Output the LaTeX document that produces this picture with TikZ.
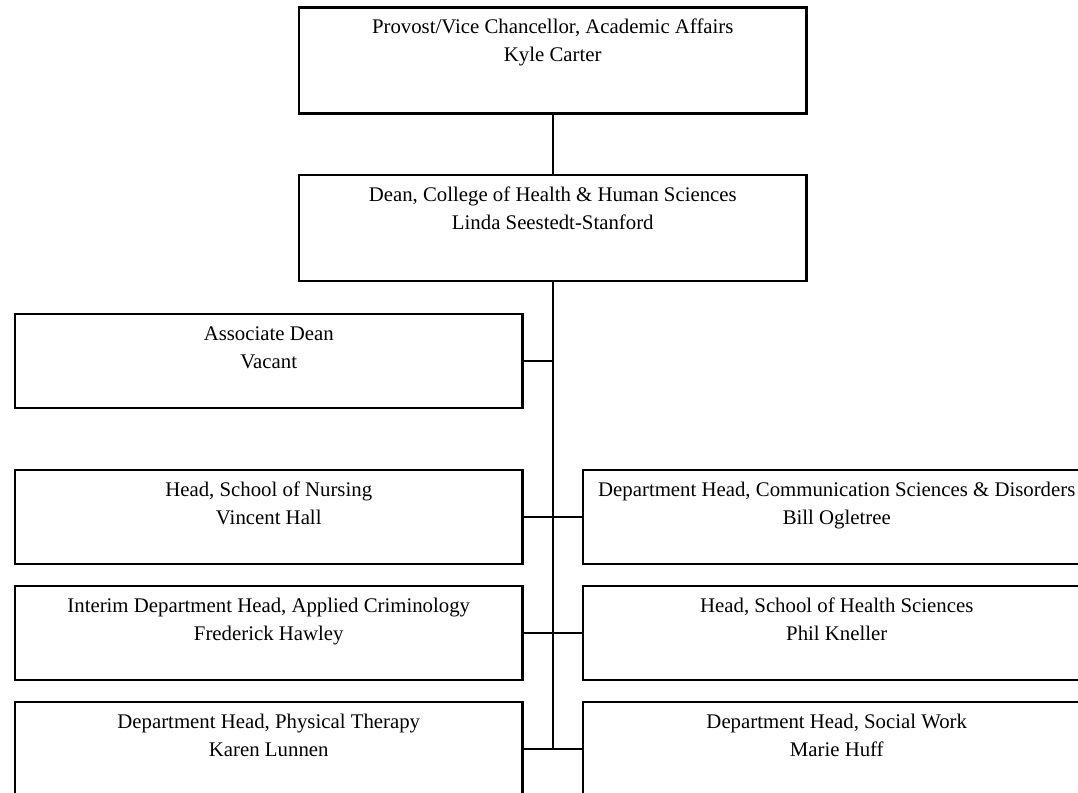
\documentclass[tikz,border=0pt]{standalone}
\usepackage{fontspec}
\setmainfont{Liberation Serif}
\tikzset{
  post/.style={draw=black, line width=2.6pt, fill=white, minimum width=507.5pt,
    inner sep=0pt, outer sep=0pt},
  posttext/.style={anchor=base, inner sep=0pt, outer sep=0pt,
    font=\fontsize{20.8}{24}\selectfont},
  link/.style={draw=black, line width=2.3pt},
  spine/.style={draw=black, line width=2pt}
}
% \orgpost{name}{centre x}{top y}{height}{title}{holder}
\newcommand\orgpost[6]{%
  \node[post, minimum height=#4pt] (#1) at (#2, #3+#4/2) {};
  \node[posttext] (#1-title) at ([yshift=-26pt]#1.north) {#5};
  \node[posttext] (#1-holder) at ([yshift=-54pt]#1.north) {#6};
}
\begin{document}
\begin{tikzpicture}[x=1pt, y=-1pt]
  \useasboundingbox (0,0) rectangle (1078,792);
  \clip (0,0) rectangle (1078,792);
  \fill[white] (0,0) rectangle (1078,792);

  % connectors first, boxes are drawn on top
  \coordinate (spinetop) at (552.75,281);
  \coordinate (spineend) at (552.75,748.5);
  \draw[spine] (spinetop) -- (spineend);

  \orgpost{provost}{552.75}{7.5}{106}{Provost/Vice Chancellor, Academic Affairs}{Kyle Carter}
  \orgpost{dean}{552.75}{175}{106}{Dean, College of Health \& Human Sciences}{Linda Seestedt-Stanford}
  \orgpost{assoc}{268.75}{314}{94}{Associate Dean}{Vacant}
  \orgpost{nursing}{268.75}{470}{94}{Head, School of Nursing}{Vincent Hall}
  \orgpost{csd}{836.75}{470}{94}{Department Head, Communication Sciences \& Disorders}{Bill Ogletree}
  \orgpost{crim}{268.75}{586}{94}{Interim Department Head, Applied Criminology}{Frederick Hawley}
  \orgpost{hsci}{836.75}{586}{94}{Head, School of Health Sciences}{Phil Kneller}
  \orgpost{pt}{268.75}{702}{94}{Department Head, Physical Therapy}{Karen Lunnen}
  \orgpost{sw}{836.75}{702}{94}{Department Head, Social Work}{Marie Huff}

  \draw[link] (provost.south) -- (dean.north);
  \draw[link] (assoc.east) -- (assoc.east -| spinetop);
  \draw[link] (nursing.east) -- (csd.west);
  \draw[link] (crim.east) -- (hsci.west);
  \draw[link] (pt.east) -- (sw.west);
\end{tikzpicture}
\end{document}
